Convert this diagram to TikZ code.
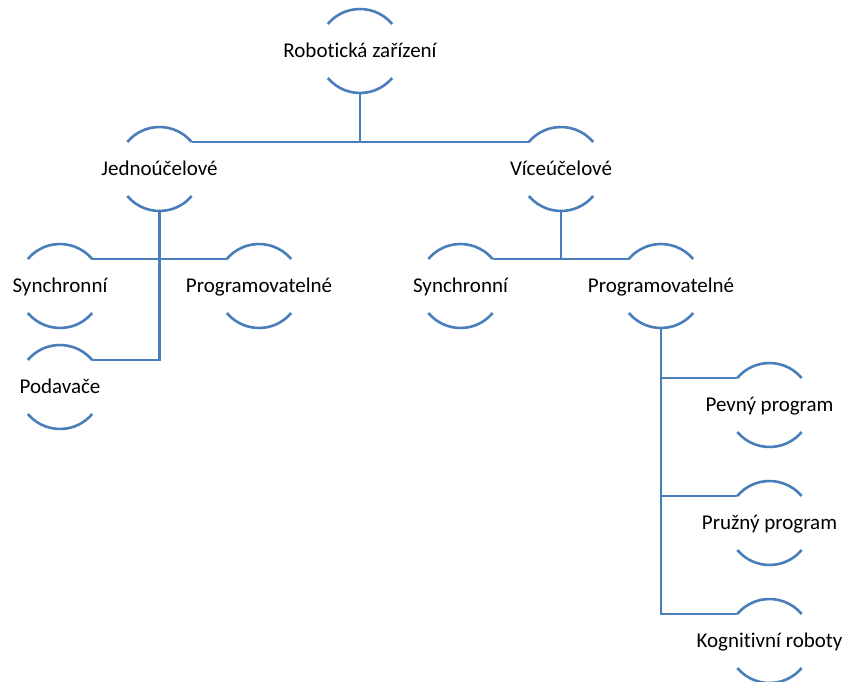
\documentclass[tikz,border=0pt]{standalone}
\usepackage{fontspec}
\setmainfont[Ligatures=NoCommon]{Carlito}
\begin{document}
\begin{tikzpicture}[x=1pt,y=-1pt,
  ring/.style={draw=hierblue, line width=2.6pt},
  link/.style={draw=hierblue, line width=2.6pt},
  hn/.style={font=\fontsize{21}{25}\selectfont, text height=13pt, text depth=0pt, inner sep=0pt, anchor=center}]
\definecolor{hierblue}{RGB}{74,126,187}
\useasboundingbox (0,0) rectangle (844,682);

% hierarchy members, placed at the centres of their rings
\node[hn] (root) at (360,51)    {Robotická zařízení};
\node[hn] (J)    at (159.5,169) {Jednoúčelové};
\node[hn] (V)    at (561,169)   {Víceúčelové};
\node[hn] (S1)   at (60,286)    {Synchronní};
\node[hn] (P1)   at (259,286)   {Programovatelné};
\node[hn] (Pod)  at (60,387)    {Podavače};
\node[hn] (S2)   at (460.5,286) {Synchronní};
\node[hn] (P2)   at (661,286)   {Programovatelné};
\node[hn] (Pe)   at (769.5,405) {Pevný program};
\node[hn] (Pr)   at (769.5,523) {Pružný program};
\node[hn] (K)    at (769.5,641) {Kognitivní roboty};

% open rings: an upper and a lower arc round each member
\foreach \n in {root,J,V,S1,P1,Pod,S2,P2,Pe,Pr,K}{
  \coordinate (\n-tl) at ([shift={(140:42pt)}]\n.center);
  \coordinate (\n-tr) at ([shift={(40:42pt)}]\n.center);
  \coordinate (\n-b)  at ([yshift=-42pt]\n.center);
  \draw[ring] (\n-tr) arc[start angle=40, end angle=140, radius=42pt];
  \draw[ring] ([shift={(220:42pt)}]\n.center) arc[start angle=220, end angle=320, radius=42pt];
}

% connectors
\draw[link] (root-b) -- (root-b |- J-tr);
\draw[link] (J-tr) -- (V-tl);

\draw[link] (S1-tr) -- (P1-tl);
\draw[link] (J-b) -- (J-b |- Pod-tr) -- (Pod-tr);

\draw[link] (V-b) -- (V-b |- S2-tr);
\draw[link] (S2-tr) -- (P2-tl);

\draw[link] (P2-b) -- (P2-b |- K-tl) -- (K-tl);
\draw[link] (P2-b |- Pe-tl) -- (Pe-tl);
\draw[link] (P2-b |- Pr-tl) -- (Pr-tl);
\end{tikzpicture}
\end{document}
